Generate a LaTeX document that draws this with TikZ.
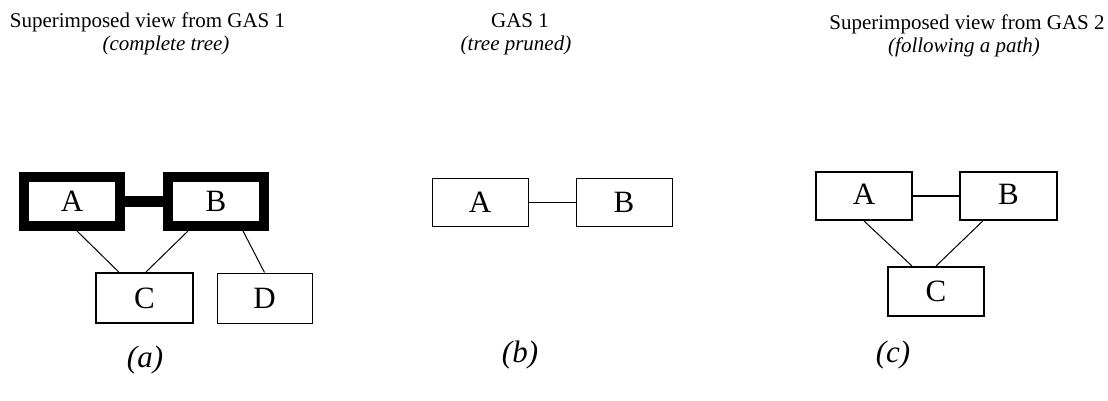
\documentclass[tikz,border=0pt]{standalone}
\usepackage{fontspec}
\setmainfont{Liberation Serif}
\usetikzlibrary{calc}
\tikzset{
  bx/.style={draw, rectangle, inner sep=0pt, fill=white, font=\fontsize{31}{34}\selectfont},
  ttl/.style={inner sep=0pt, anchor=base, font=\fontsize{21}{24}\selectfont},
  sub/.style={inner sep=0pt, anchor=base, font=\fontsize{21}{24}\selectfont\itshape},
  lbl/.style={inner sep=0pt, anchor=base, font=\fontsize{31}{34}\selectfont\itshape},
  thin/.style={line width=1pt},
}
\begin{document}
\begin{tikzpicture}[x=1pt,y=-1pt]
\useasboundingbox (0,0) rectangle (1108,401);
% titles
\node[ttl] (t1) at (147.5,28) {Superimposed view from GAS 1};
\node[sub] (s1) at (166,51) {(complete tree)};
\node[ttl] (t2) at (520,28) {GAS 1};
\node[sub] (s2) at (516,51) {(tree pruned)};
\node[ttl] (t3) at (967,30) {Superimposed view from GAS 2};
\node[sub] (s3) at (964,53) {(following a path)};
% panel (a)
\node[bx, line width=10pt, minimum width=96pt, minimum height=49pt] (aA) at (72,201.5) {A};
\node[bx, line width=10pt, minimum width=96pt, minimum height=49pt] (aB) at (216,201.5) {B};
\node[bx, line width=2pt, minimum width=97pt, minimum height=50pt] (aC) at (144.5,298) {C};
\node[bx, line width=1pt, minimum width=95pt, minimum height=50pt] (aD) at (264.5,298) {D};
\draw[line width=11pt] (aA.east) -- (aB.west);
\draw[thin] ($(aA.south west)!0.547!(aA.south east)$) -- ($(aC.north west)!0.24!(aC.north east)$);
\draw[thin] ($(aB.south west)!0.236!(aB.south east)$) -- ($(aC.north west)!0.515!(aC.north east)$);
\draw[thin] ($(aB.south west)!0.755!(aB.south east)$) -- (aD.north);
% panel (b)
\node[bx, line width=1pt, minimum width=96pt, minimum height=48pt] (bA) at (480,202) {A};
\node[bx, line width=1pt, minimum width=96pt, minimum height=48pt] (bB) at (624,202) {B};
\draw[thin] (bA.east) -- (bB.west);
% panel (c)
\node[bx, line width=2pt, minimum width=96pt, minimum height=48pt, text depth=3pt] (cA) at (864,196) {A};
\node[bx, line width=2pt, minimum width=97pt, minimum height=48pt, text depth=3pt] (cB) at (1008.5,196) {B};
\node[bx, line width=2pt, minimum width=96pt, minimum height=49pt] (cC) at (936,291.5) {C};
\draw[line width=2pt] (cA.east) -- (cB.west);
\draw[thin] (cA.south) -- ($(cC.north west)!0.255!(cC.north east)$);
\draw[thin] ($(cB.south west)!0.24!(cB.south east)$) -- (cC.north);
% labels
\node[lbl] (la) at (145,367) {(a)};
\node[lbl] (lb) at (520,362) {(b)};
\node[lbl] (lc) at (893,362) {(c)};
\end{tikzpicture}
\end{document}
